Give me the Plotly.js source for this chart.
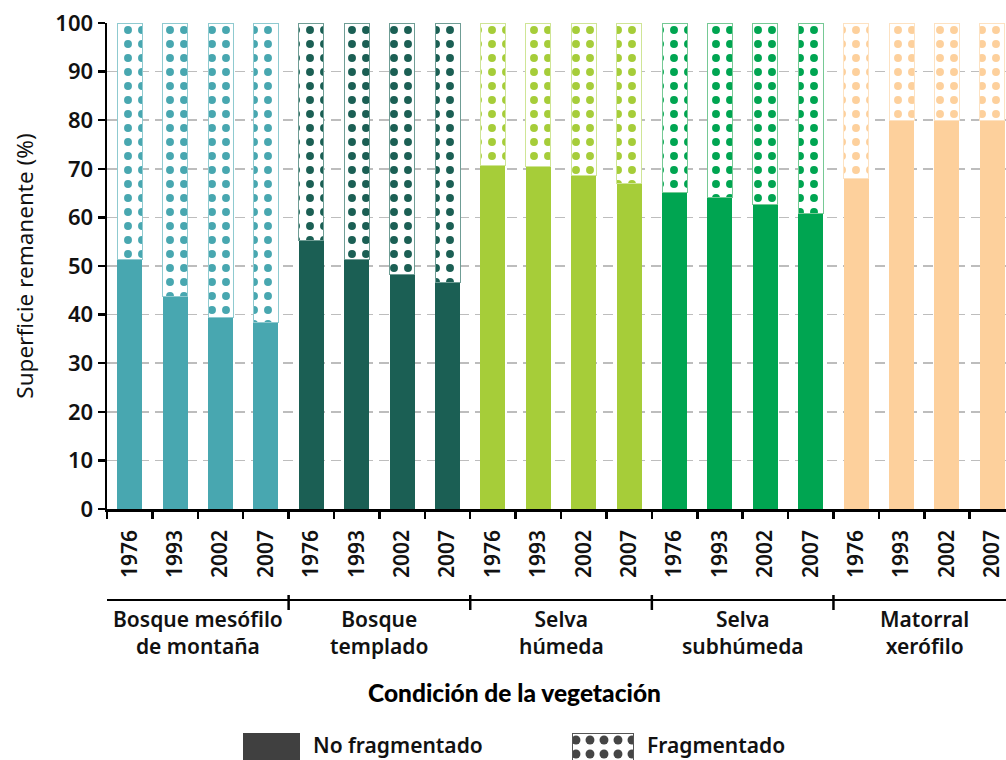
<!DOCTYPE html>
<html>
<head>
<meta charset="utf-8">
<script src="https://cdn.plot.ly/plotly-3.0.1.min.js"></script>
<style>
html,body{margin:0;padding:0;background:#fff;overflow:hidden;}
#chart{width:1006px;height:760px;}
</style>
</head>
<body>
<div id="chart"></div>
<script>
// ---- data ----
const groups = ["Bosque mesófilo<br>de montaña", "Bosque<br>templado", "Selva<br>húmeda", "Selva<br>subhúmeda", "Matorral<br>xerófilo"];
const years = ["1976", "1993", "2002", "2007"];
const noFragmentado = [51.4, 43.8, 39.5, 38.3,
                       55.3, 51.4, 48.3, 46.7,
                       70.6, 70.4, 68.7, 66.9,
                       65.2, 64.0, 62.6, 60.9,
                       68.1, 80.0, 80.0, 80.0];
const fragmentado = noFragmentado.map(v => +(100 - v).toFixed(1));
const groupColors = ["#48a7b0", "#1b5f54", "#a6cd39", "#00a551", "#fdd09c"];
const groupLines  = ["#8fcad0", "#6f9d95", "#cfe596", "#76c995", "#fde2c2"];

// ---- derived ----
const xIdx = noFragmentado.map((_, i) => i);
const tickText = xIdx.map(i => years[i % years.length]);
const barColors = xIdx.map(i => groupColors[Math.floor(i / years.length)]);
const lineColors = xIdx.map(i => groupLines[Math.floor(i / years.length)]);

const FONT = "Noto Sans, Open Sans, sans-serif";
const H = 760, T = 23;
const py = p => (H - p) / (H - T); // pixel -> paper (margin b=0)

const traces = [
  {
    type: "bar", x: xIdx, y: noFragmentado, width: 0.55,
    marker: {color: barColors, line: {width: 0}},
    showlegend: false, hoverinfo: "skip"
  },
  {
    type: "bar", x: xIdx, y: fragmentado, width: 0.55,
    marker: {
      color: "#ffffff",
      line: {color: lineColors, width: 1},
      pattern: {shape: ".", fgcolor: barColors, bgcolor: "#ffffff", fgopacity: 1, size: 14, solidity: 0.25, fillmode: "replace"}
    },
    showlegend: false, hoverinfo: "skip"
  },
  // legend keys
  {
    type: "bar", x: [271.5], y: [1], width: [57], xaxis: "x2", yaxis: "y2",
    marker: {color: "#404040", line: {width: 0}}, showlegend: false, hoverinfo: "skip"
  },
  {
    type: "bar", x: [602.5], y: [1], width: [61], xaxis: "x2", yaxis: "y2",
    marker: {color: "#ffffff", line: {color: "#555", width: 1},
      pattern: {shape: ".", fgcolor: "#454545", bgcolor: "#ffffff", fgopacity: 1, size: 14, solidity: 0.32, fillmode: "replace"}},
    showlegend: false, hoverinfo: "skip"
  }
];

const shapes = [];
shapes.push({type: "line", xref: "x", yref: "paper", x0: -0.5, x1: 19.5, y0: py(600), y1: py(600), line: {color: "#000", width: 2}});
[3.5, 7.5, 11.5, 15.5].forEach(b => {
  shapes.push({type: "line", xref: "x", yref: "paper", x0: b, x1: b, y0: py(595), y1: py(610), line: {color: "#000", width: 2.5}});
});

const annotations = groups.map((g, k) => ({
  xref: "x", yref: "paper", x: k * 4 + 1.5, y: py(632), text: g, showarrow: false,
  xanchor: "center", yanchor: "middle", align: "center",
  font: {family: FONT, size: 21, color: "#111", weight: 600}
}));
annotations.push({
  xref: "paper", yref: "paper", x: (514 - 107) / 899, y: py(692), text: "Condición de la vegetación",
  showarrow: false, xanchor: "center", yanchor: "middle",
  font: {family: "Lato, Noto Sans, sans-serif", size: 24.5, color: "#000", weight: 900}
});
annotations.push({
  xref: "x2", yref: "paper", x: 312, y: py(745), text: "No fragmentado", showarrow: false,
  xanchor: "left", yanchor: "middle", borderpad: 0, font: {family: FONT, size: 21, color: "#111", weight: 600}
});
annotations.push({
  xref: "x2", yref: "paper", x: 646, y: py(745), text: "Fragmentado", showarrow: false,
  xanchor: "left", yanchor: "middle", borderpad: 0, font: {family: FONT, size: 21, color: "#111", weight: 600}
});

const layout = {
  width: 1006, height: H,
  margin: {l: 107, r: 0, t: T, b: 0, pad: 0},
  paper_bgcolor: "#fff", plot_bgcolor: "#fff",
  barmode: "stack",
  showlegend: false,
  xaxis: {
    domain: [0, 1], anchor: "y",
    range: [-0.5, 19.3], tickmode: "array", tickvals: xIdx, ticktext: tickText,
    tickangle: -90, ticks: "outside", ticklen: 10, tickcolor: "rgba(0,0,0,0)",
    showline: true, linecolor: "#000", linewidth: 2.5,
    showgrid: false, zeroline: false,
    tickfont: {family: FONT, size: 21, color: "#111", weight: 600},
    minor: {tick0: -0.5, dtick: 1, ticks: "outside", ticklen: 7, tickwidth: 2.5, tickcolor: "#000", showgrid: false}
  },
  yaxis: {
    domain: [py(509), 1], anchor: "x",
    range: [0, 100], dtick: 10, ticks: "outside", ticklen: 7, tickwidth: 2.5, tickcolor: "#000",
    showline: true, linecolor: "#000", linewidth: 2.5,
    showgrid: true, gridcolor: "#bdbdbd", gridwidth: 1.5, griddash: "10px,6px",
    zeroline: false,
    tickfont: {family: FONT, size: 22, color: "#111", weight: 600},
    title: {text: "Superficie remanente (%)", standoff: 16, font: {family: FONT, size: 22.5, color: "#111"}}
  },
  xaxis2: {domain: [0, 1], anchor: "y2", range: [107, 1006], visible: false, fixedrange: true},
  yaxis2: {domain: [0, py(733)], anchor: "x2", range: [0, 1], visible: false, fixedrange: true},
  shapes: shapes,
  annotations: annotations
};

Plotly.newPlot("chart", traces, layout, {displayModeBar: false, staticPlot: true});
</script>
</body>
</html>
